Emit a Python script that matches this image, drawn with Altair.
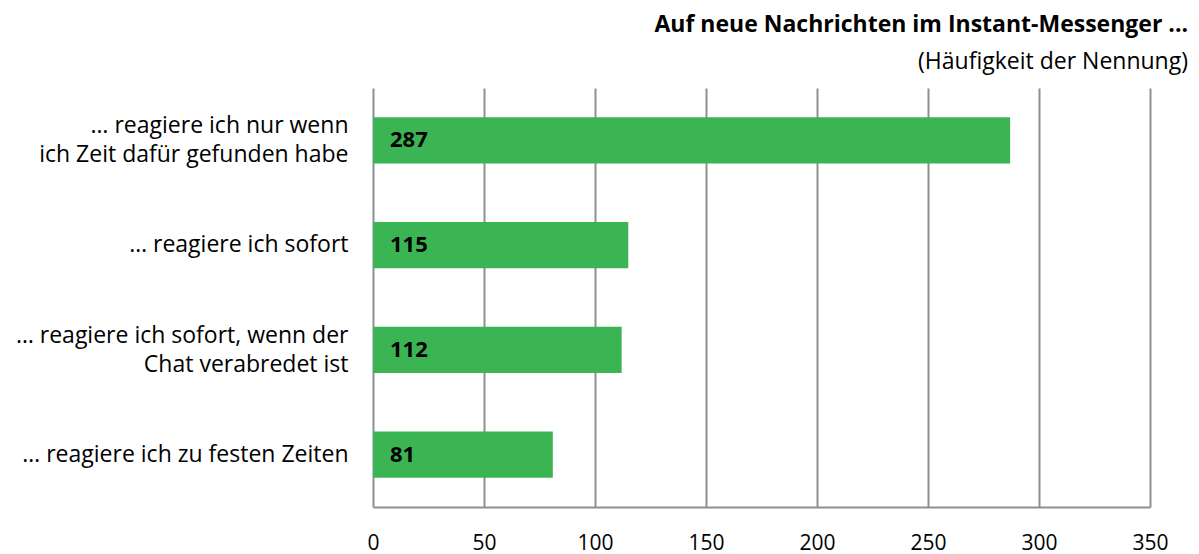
import altair as alt
import pandas as pd

categories = [
    "… reagiere ich nur wenn|ich Zeit dafür gefunden habe",
    "… reagiere ich sofort",
    "… reagiere ich sofort, wenn der|Chat verabredet ist",
    "… reagiere ich zu festen Zeiten",
]
values = [287, 115, 112, 81]

df = pd.DataFrame({"cat": categories, "val": values})

FONT = "Open Sans"
GREEN = "#3BB554"
GRID = "#8f8f8f"

x = alt.X("val:Q", scale=alt.Scale(domain=[0, 350], nice=False),
          axis=alt.Axis(values=list(range(0, 351, 50)), title=None, grid=True,
                        gridColor=GRID, gridWidth=2, domainColor=GRID, domainWidth=2,
                        ticks=False, labelFontSize=21, labelFont=FONT, labelColor="#000",
                        labelPadding=25, labelFlush=False))
y = alt.Y("cat:N", sort=categories,
          scale=alt.Scale(paddingInner=0.56, paddingOuter=0.28),
          axis=alt.Axis(title=None, domain=False, ticks=False, labelFontSize=23,
                        labelFont=FONT, labelColor="#000", labelPadding=25,
                        labelLimit=400, labelLineHeight=29,
                        labelOffset={"condition": {"test": "indexof(datum.value, '|') >= 0",
                                                   "value": -14},
                                     "value": 0},
                        labelExpr="split(datum.label, '|')"))

bars = alt.Chart(df).mark_bar(color=GREEN).encode(x=x, y=y)
labels = alt.Chart(df).mark_text(align="left", baseline="middle", dx=17, fontSize=22,
                                 fontWeight="bold", font=FONT, color="#000").encode(
    x=alt.datum(0), y=alt.Y("cat:N", sort=categories), text="val:Q")

chart = (bars + labels).properties(
    width=777, height=419,
    padding={"left": 365, "top": 80, "right": 41, "bottom": 47},
    autosize="none",
    title=alt.TitleParams(
        "Auf neue Nachrichten im Instant-Messenger ...",
        subtitle="(Häufigkeit der Nennung)",
        anchor="end", frame="group", dx=38, font=FONT, fontSize=23, fontWeight="bold",
        color="#000", subtitleFont=FONT, subtitleFontSize=23, subtitleColor="#000",
        subtitlePadding=14, offset=14, limit=2000,
    ),
).configure_view(stroke=None)

chart.save("out.html", embed_options={"renderer": "svg", "actions": False})
